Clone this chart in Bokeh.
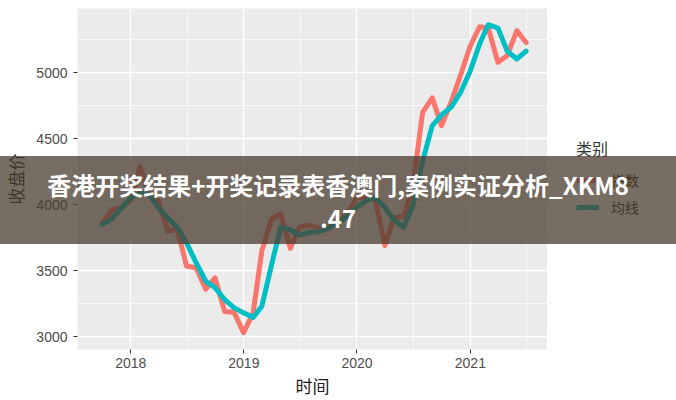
import calendar
from datetime import datetime

from bokeh.plotting import figure
from bokeh.layouts import column, row
from bokeh.models import (ColumnDataSource, Range1d, FixedTicker, SingleIntervalTicker,
                          DatetimeTickFormatter, Legend, LegendItem, Div)
from bokeh.embed import file_html
from bokeh.resources import INLINE

# ---------------- data ----------------
start_year, start_month, n_months = 2017, 9, 46

close = [3850, 3960, 3975, 4030, 4290, 4090, 4030, 3800, 3815, 3535,
         3520, 3360, 3445, 3190, 3185, 3030, 3180, 3650, 3890, 3930,
         3670, 3830, 3845, 3825, 3830, 3860, 3930, 4050, 4060, 4040,
         3690, 3900, 3910, 4150, 4700, 4810, 4600, 4780, 4980, 5200,
         5350, 5340, 5080, 5130, 5320, 5230]

ma = [3850, 3890, 3970, 4050, 4090, 4080, 3980, 3900, 3830, 3710,
      3560, 3420, 3370, 3280, 3220, 3180, 3145, 3230, 3540, 3830,
      3810, 3770, 3790, 3795, 3820, 3860, 3910, 3980, 4030, 4055,
      3980, 3880, 3830, 4000, 4330, 4600, 4680, 4740, 4850, 5010,
      5220, 5365, 5340, 5165, 5105, 5165]

year_ticks = [2018, 2019, 2020, 2021]
minor_years = [2017, 2018, 2019, 2020, 2021]
y_tick_interval = 500

x_label = "时间"
y_label = "收盘价"
legend_title = "类别"
series_names = ["指数", "均线"]
series_colors = ["#F8766D", "#00BFC4"]
banner_lines = ["香港开奖结果+开奖记录表香澳门,案例实证分析_XKM8", ".47"]

# ---------------- helpers ----------------
def month_end(y, m):
    return datetime(y, m, calendar.monthrange(y, m)[1])

dates = []
yy, mm = start_year, start_month
for _ in range(n_months):
    dates.append(month_end(yy, mm))
    mm += 1
    if mm > 12:
        mm = 1
        yy += 1

epoch = datetime(1970, 1, 1)
def ms(d):
    return (d - epoch).total_seconds() * 1000.0

src = ColumnDataSource(dict(date=dates, close=close, ma=ma))

CJK = "Noto Sans CJK SC"
LAT = "Liberation Sans"

# ---------------- main chart ----------------
p = figure(width=547, height=400, x_axis_type="datetime",
           x_range=Range1d(datetime(2017, 7, 13), datetime(2021, 9, 7)),
           y_range=Range1d(2902, 5488),
           output_backend="svg", toolbar_location=None,
           min_border_left=75, min_border_right=0, min_border_top=8, min_border_bottom=50)

p.background_fill_color = "#EBEBEB"
p.border_fill_color = "white"
p.outline_line_color = None

p.xaxis.ticker = FixedTicker(ticks=[ms(datetime(y, 1, 1)) for y in year_ticks],
                             minor_ticks=[ms(datetime(y, 7, 2)) for y in minor_years])
p.xaxis.formatter = DatetimeTickFormatter(years="%Y", months="%Y", days="%Y")
p.yaxis.ticker = SingleIntervalTicker(interval=y_tick_interval, num_minor_ticks=2)

for g in (p.xgrid, p.ygrid):
    g.grid_line_color = "white"
    g.grid_line_width = 1.4
    g.minor_grid_line_color = "white"
    g.minor_grid_line_width = 0.7

for ax in (p.xaxis, p.yaxis):
    ax.axis_line_color = None
    ax.major_tick_line_color = "#333333"
    ax.major_tick_line_width = 1
    ax.major_tick_out = 4
    ax.major_tick_in = 0
    ax.minor_tick_line_color = None
    ax.major_label_text_color = "#4D4D4D"
    ax.major_label_text_font = LAT
    ax.major_label_text_font_size = "14px"
    ax.axis_label_text_font = CJK
    ax.axis_label_text_font_size = "17px"
    ax.axis_label_text_font_style = "normal"
    ax.axis_label_text_color = "#1a1a1a"

p.xaxis.axis_label = x_label
p.yaxis.axis_label = y_label
p.xaxis.major_label_standoff = 4
p.xaxis.axis_label_standoff = 2
p.yaxis.major_label_standoff = 6
p.yaxis.axis_label_standoff = 5

for col, c in zip(["close", "ma"], series_colors):
    p.line("date", col, source=src, line_color=c, line_width=5,
           line_join="round", line_cap="round")

# ---------------- legend panel (right of the chart) ----------------
lp = figure(width=129, height=400, x_range=Range1d(0, 1), y_range=Range1d(0, 1),
            output_backend="svg", toolbar_location=None,
            x_axis_location=None, y_axis_location=None,
            min_border_left=0, min_border_right=0, min_border_top=8, min_border_bottom=50)
lp.grid.visible = False
lp.outline_line_color = None
lp.background_fill_color = "white"
lp.border_fill_color = "white"

legend_renderers = [lp.line("date", col, source=src, line_color=c, line_width=5)
                    for col, c in zip(["close", "ma"], series_colors)]

legend = Legend(items=[LegendItem(label=n, renderers=[r])
                       for n, r in zip(series_names, legend_renderers)],
                title=legend_title, location=(29, 132), padding=10, margin=0,
                border_line_color=None, background_fill_alpha=0,
                glyph_width=23, glyph_height=20, label_height=20, spacing=7,
                label_standoff=12, title_standoff=10)
legend.title_text_font = CJK
legend.title_text_font_size = "16px"
legend.title_text_font_style = "normal"
legend.title_text_color = "#333333"
legend.label_text_font = CJK
legend.label_text_font_size = "14px"
legend.label_text_color = "#1a1a1a"
lp.add_layout(legend)

# ---------------- banner overlay (HTML text laid over the chart) ----------------
banner_html = (
    '<div style="width:676px;height:88px;box-sizing:border-box;padding-top:12px;'
    'background:rgba(75,60,45,0.75);color:#ffffff;font-family:\'Noto Sans CJK SC\';'
    'font-weight:bold;font-size:24px;line-height:33px;text-align:center;white-space:nowrap;">'
    + "<br>".join(banner_lines) + "</div>"
)
banner = Div(text=banner_html, width=676, height=88, margin=(-244, 0, 0, 0),
             styles={"position": "relative", "z-index": "10"})

layout = column(row(p, lp, spacing=0), banner, spacing=0)
open("out.html", "w").write(file_html(layout, INLINE))
